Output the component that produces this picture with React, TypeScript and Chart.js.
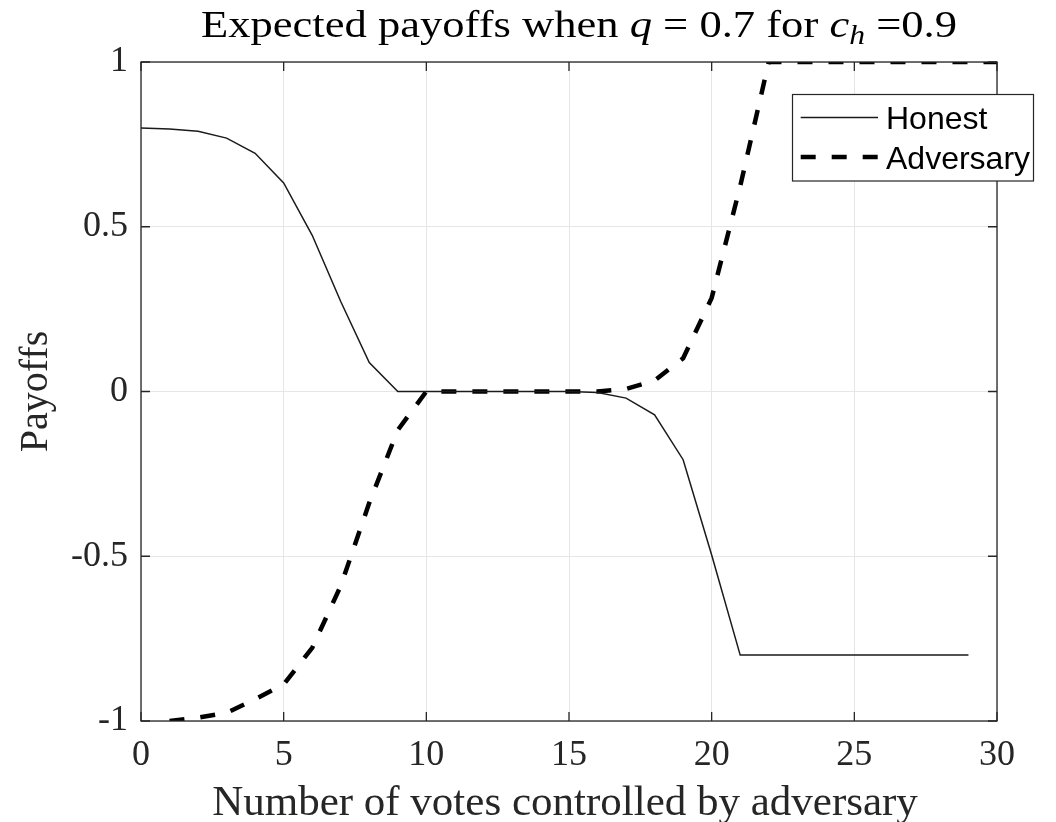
import React, { useEffect, useRef } from 'react';
import { Chart, registerables } from 'chart.js';

Chart.register(...registerables);

const honestVotes = [0, 1, 2, 3, 4, 5, 6, 7, 8, 9, 10, 11, 12, 13, 14, 15, 16, 17, 18, 19, 20, 21, 22, 23, 24, 25, 26, 27, 28, 29];
const honestPayoff = [0.8, 0.797, 0.79, 0.769, 0.723, 0.633, 0.474, 0.273, 0.088, 0, 0, 0, 0, 0, 0, 0, -0.003, -0.02, -0.071, -0.207, -0.496, -0.8, -0.8, -0.8, -0.8, -0.8, -0.8, -0.8, -0.8, -0.8];
const adversaryVotes = [1, 2, 3, 4, 5, 6, 7, 8, 9, 10, 11, 12, 13, 14, 15, 16, 17, 18, 19, 20, 21, 22, 23, 24, 25, 26, 27, 28, 29, 30];
const adversaryPayoff = [-1, -0.99, -0.975, -0.934, -0.889, -0.778, -0.59, -0.338, -0.117, 0, 0, 0, 0, 0, 0, 0, 0.008, 0.033, 0.101, 0.284, 0.623, 1, 1, 1, 1, 1, 1, 1, 1, 1];
const seriesNames = ['Honest', 'Adversary'];
const xTicks = [0, 5, 10, 15, 20, 25, 30];
const yTicks = [-1, -0.5, 0, 0.5, 1];
const yTickLabels = ['-1', '-0.5', '0', '0.5', '1'];
const xAxisTitle = 'Number of votes controlled by adversary';
const yAxisTitle = 'Payoffs';

const SERIF = '"Liberation Serif", "Times New Roman", serif';
const SANS = '"Liberation Sans", Arial, sans-serif';
const AXIS = '#262626';

const decorPlugin = {
  id: 'decor',
  afterDraw(chart: any) {
    const ctx = chart.ctx as CanvasRenderingContext2D;
    const { left, right, top, bottom } = chart.chartArea;
    const xs = chart.scales.x;
    const ys = chart.scales.y;
    ctx.save();
    // box
    ctx.strokeStyle = AXIS;
    ctx.lineWidth = 1.3;
    ctx.setLineDash([]);
    ctx.strokeRect(left, top, right - left, bottom - top);
    // inward ticks
    const tl = 9;
    ctx.beginPath();
    xTicks.forEach((v) => {
      const p = xs.getPixelForValue(v);
      ctx.moveTo(p, bottom);
      ctx.lineTo(p, bottom - tl);
      ctx.moveTo(p, top);
      ctx.lineTo(p, top + tl);
    });
    yTicks.forEach((v) => {
      const p = ys.getPixelForValue(v);
      ctx.moveTo(left, p);
      ctx.lineTo(left + tl, p);
      ctx.moveTo(right, p);
      ctx.lineTo(right - tl, p);
    });
    ctx.stroke();

    // title with math parts
    ctx.fillStyle = '#000';
    ctx.textBaseline = 'alphabetic';
    ctx.textAlign = 'left';
    const fs = 38;
    const parts: { t: string; f: string; dy: number }[] = [
      { t: 'Expected payoffs when ', f: `${fs}px ${SERIF}`, dy: 0 },
      { t: 'q', f: `italic ${fs}px ${SERIF}`, dy: 0 },
      { t: ' = 0.7 for ', f: `${fs}px ${SERIF}`, dy: 0 },
      { t: 'c', f: `italic ${fs}px ${SERIF}`, dy: 0 },
      { t: 'h', f: `italic ${Math.round(fs * 0.7)}px ${SERIF}`, dy: 7 },
      { t: ' =0.9', f: `${fs}px ${SERIF}`, dy: 0 },
    ];
    let total = 0;
    const widths = parts.map((p) => {
      ctx.font = p.f;
      const w = ctx.measureText(p.t).width;
      total += w;
      return w;
    });
    const targetW = 756;
    const sx = targetW / total;
    const cx = 579;
    ctx.save();
    ctx.translate(cx - targetW / 2, 37);
    ctx.scale(sx, 1);
    let x = 0;
    parts.forEach((p, i) => {
      ctx.font = p.f;
      ctx.fillText(p.t, x, p.dy);
      x += widths[i];
    });
    ctx.restore();

    // x axis title
    ctx.fillStyle = '#262626';
    ctx.font = `43px ${SERIF}`;
    ctx.textAlign = 'center';
    ctx.textBaseline = 'alphabetic';
    ctx.fillText(xAxisTitle, (left + right) / 2 - 4, 815);

    // y axis title
    ctx.save();
    ctx.translate(47, (top + bottom) / 2);
    ctx.rotate(-Math.PI / 2);
    ctx.font = `40px ${SERIF}`;
    ctx.textAlign = 'center';
    ctx.fillText(yAxisTitle, 0, 0);
    ctx.restore();

    // legend
    const lx0 = 792.5, ly0 = 94.5, lx1 = 1033.5, ly1 = 181;
    ctx.fillStyle = '#fff';
    ctx.fillRect(lx0, ly0, lx1 - lx0, ly1 - ly0);
    ctx.strokeStyle = AXIS;
    ctx.lineWidth = 1.2;
    ctx.strokeRect(lx0, ly0, lx1 - lx0, ly1 - ly0);
    const rows = [117.5, 157];
    chart.data.datasets.forEach((ds: any, i: number) => {
      ctx.beginPath();
      ctx.strokeStyle = ds.borderColor;
      ctx.lineWidth = ds.borderWidth;
      ctx.setLineDash(ds.borderDash || []);
      ctx.lineCap = 'butt';
      ctx.moveTo(800.7, rows[i]);
      ctx.lineTo(878, rows[i]);
      ctx.stroke();
      ctx.setLineDash([]);
      ctx.fillStyle = '#000';
      ctx.font = `32px ${SANS}`;
      ctx.textAlign = 'left';
      ctx.textBaseline = 'alphabetic';
      ctx.fillText(ds.label, 886, rows[i] + 11.5);
    });
    ctx.restore();
  },
};

export default function App() {
  const ref = useRef<HTMLCanvasElement | null>(null);
  useEffect(() => {
    if (!ref.current) return;
    const chart = new Chart(ref.current, {
      type: 'line',
      data: {
        datasets: [
          {
            label: seriesNames[0],
            data: honestVotes.map((v, i) => ({ x: v, y: honestPayoff[i] })),
            borderColor: '#1a1a1a',
            borderWidth: 1.5,
            pointRadius: 0,
            tension: 0,
            fill: false,
          },
          {
            label: seriesNames[1],
            data: adversaryVotes.map((v, i) => ({ x: v, y: adversaryPayoff[i] })),
            borderColor: '#000',
            borderWidth: 4.5,
            borderDash: [15, 16],
            borderCapStyle: 'butt',
            pointRadius: 0,
            tension: 0,
            fill: false,
          },
        ],
      },
      options: {
        responsive: false,
        animation: false,
        layout: { padding: { left: 0, top: 62, right: 59, bottom: 0 } },
        plugins: {
          legend: { display: false },
          title: { display: false },
          tooltip: { enabled: false },
        },
        scales: {
          x: {
            type: 'linear',
            min: 0,
            max: 30,
            afterFit: (axis: any) => {
              axis.height = 101;
            },
            afterBuildTicks: (axis: any) => {
              axis.ticks = xTicks.map((v) => ({ value: v }));
            },
            ticks: {
              font: { family: SERIF, size: 36 },
              color: '#262626',
              padding: 13,
              maxRotation: 0,
              autoSkip: false,
            },
            grid: { color: '#e6e6e6', lineWidth: 1, drawTicks: false },
            border: { display: false },
          },
          y: {
            type: 'linear',
            min: -1,
            max: 1,
            afterFit: (axis: any) => {
              axis.width = 141;
            },
            afterBuildTicks: (axis: any) => {
              axis.ticks = yTicks.map((v) => ({ value: v }));
            },
            ticks: {
              font: { family: SERIF, size: 36 },
              color: '#262626',
              padding: 13,
              autoSkip: false,
              callback: (v: any) => {
                const i = yTicks.indexOf(Number(v));
                return i >= 0 ? yTickLabels[i] : '';
              },
            },
            grid: { color: '#e6e6e6', lineWidth: 1, drawTicks: false },
            border: { display: false },
          },
        },
      },
      plugins: [decorPlugin],
    } as any);
    return () => chart.destroy();
  }, []);
  return (
    <div style={{ position: 'fixed', left: 0, top: 0, width: 1056, height: 822, background: '#fff' }}>
      <canvas ref={ref} width={1056} height={822} style={{ display: 'block' }} />
    </div>
  );
}
